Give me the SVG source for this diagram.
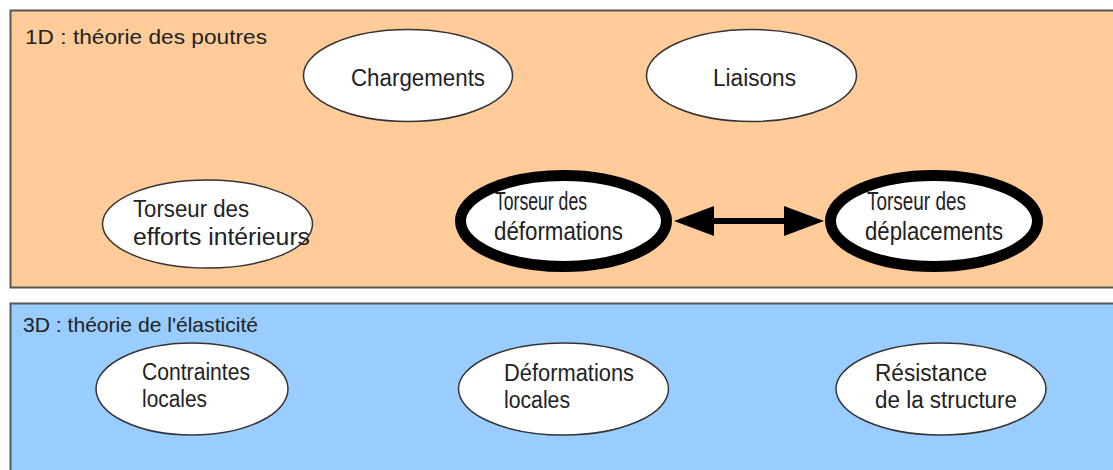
<svg xmlns="http://www.w3.org/2000/svg" width="1113" height="470" viewBox="0 0 1113 470">
<style>
  .panel { stroke: #555; stroke-width: 2; }
  .node { fill: #fff; stroke: #333; stroke-width: 1.5; }
  .bold { fill: #fff; stroke: #000; stroke-width: 11; }
  text { font-family: "Liberation Sans", Arial, sans-serif; fill: #222; }
  .title { font-size: 21px; }
  .lbl { font-size: 23px; }
  .blbl { font-size: 25px; }
  .conn { stroke: #000; stroke-width: 6; fill: none; }
  .head { fill: #000; }
</style>
<rect x="0" y="0" width="1113" height="470" fill="#fff"/>
<g id="panel-1d">
  <rect class="panel" x="10.5" y="10.5" width="1110" height="277" fill="#FFCC99"/>
  <text class="title" x="25" y="44" textLength="242" lengthAdjust="spacingAndGlyphs">1D : théorie des poutres</text>
</g>
<g id="panel-3d">
  <rect class="panel" x="10.5" y="303.5" width="1110" height="180" fill="#99CCFF"/>
  <text class="title" x="23" y="332" textLength="235" lengthAdjust="spacingAndGlyphs">3D : théorie de l'élasticité</text>
</g>
<g id="chargements">
  <ellipse class="node" cx="408" cy="75.5" rx="104.5" ry="46"/>
  <text class="lbl" x="351" y="86" textLength="134" lengthAdjust="spacingAndGlyphs">Chargements</text>
</g>
<g id="liaisons">
  <ellipse class="node" cx="751.5" cy="75.5" rx="105" ry="46"/>
  <text class="lbl" x="713" y="86" textLength="83" lengthAdjust="spacingAndGlyphs">Liaisons</text>
</g>
<g id="torseur-efforts">
  <ellipse class="node" cx="207.5" cy="224" rx="105" ry="44"/>
  <text class="lbl" x="133" y="217" textLength="116" lengthAdjust="spacingAndGlyphs">Torseur des</text>
  <text class="lbl" x="133" y="245" textLength="177" lengthAdjust="spacingAndGlyphs">efforts intérieurs</text>
</g>
<g id="torseur-deformations">
  <ellipse class="bold" cx="563.5" cy="221" rx="103" ry="45.5"/>
  <text class="blbl" x="495" y="210" textLength="92" lengthAdjust="spacingAndGlyphs">Torseur des</text>
  <text class="blbl" x="494" y="240" textLength="129" lengthAdjust="spacingAndGlyphs">déformations</text>
</g>
<g id="torseur-deplacements">
  <ellipse class="bold" cx="934" cy="221" rx="103.5" ry="45.5"/>
  <text class="blbl" x="867" y="210" textLength="99" lengthAdjust="spacingAndGlyphs">Torseur des</text>
  <text class="blbl" x="865" y="240" textLength="138" lengthAdjust="spacingAndGlyphs">déplacements</text>
</g>
<g id="contraintes">
  <ellipse class="node" cx="192" cy="389" rx="96" ry="46"/>
  <text class="lbl" x="142" y="380" textLength="108" lengthAdjust="spacingAndGlyphs">Contraintes</text>
  <text class="lbl" x="142" y="407" textLength="65" lengthAdjust="spacingAndGlyphs">locales</text>
</g>
<g id="deformations-locales">
  <ellipse class="node" cx="563.5" cy="389" rx="105" ry="46"/>
  <text class="lbl" x="504" y="381" textLength="130" lengthAdjust="spacingAndGlyphs">Déformations</text>
  <text class="lbl" x="504" y="408" textLength="66" lengthAdjust="spacingAndGlyphs">locales</text>
</g>
<g id="resistance">
  <ellipse class="node" cx="941" cy="389" rx="105" ry="46"/>
  <text class="lbl" x="875" y="381" textLength="112" lengthAdjust="spacingAndGlyphs">Résistance</text>
  <text class="lbl" x="875" y="408" textLength="142" lengthAdjust="spacingAndGlyphs">de la structure</text>
</g>
<g id="connectors">
  <line class="conn" x1="710" y1="221" x2="786" y2="221"/>
  <polygon class="head" points="674,221 714,206 714,236"/>
  <polygon class="head" points="824,221 784,206 784,236"/>
</g>
</svg>
